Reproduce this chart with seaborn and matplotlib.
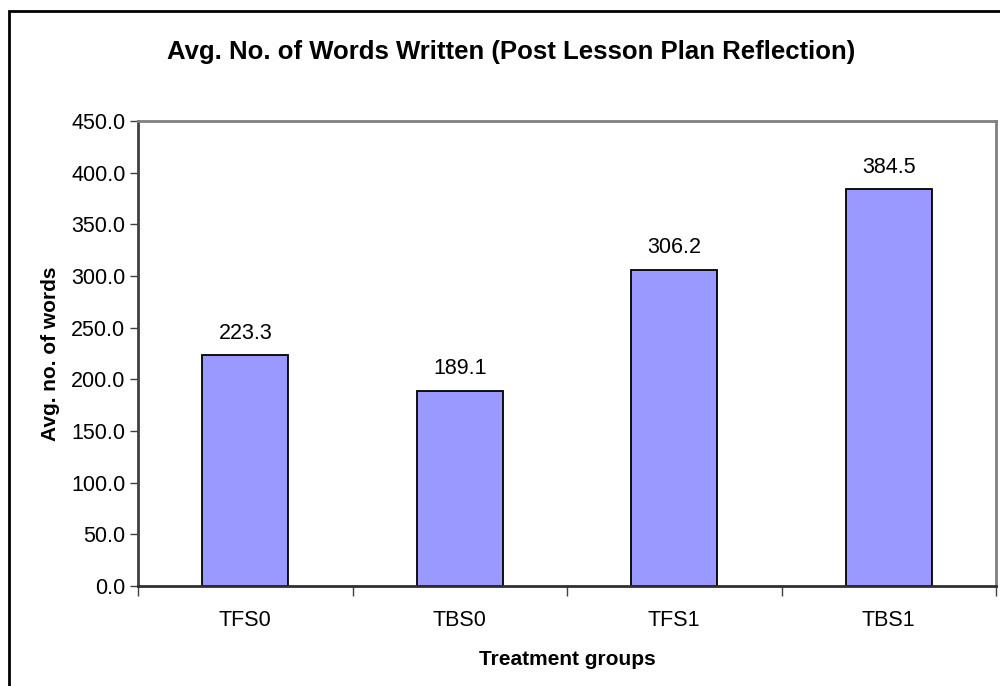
import matplotlib
matplotlib.use("Agg")
import matplotlib.pyplot as plt
import seaborn as sns
import pandas as pd
from matplotlib.patches import Rectangle

groups = ["TFS0", "TBS0", "TFS1", "TBS1"]
avg_words = [223.3, 189.1, 306.2, 384.5]
y_ticks = [0, 50, 100, 150, 200, 250, 300, 350, 400, 450]

sns.set_theme(style="white")
plt.rcParams["font.family"] = ["Liberation Sans", "DejaVu Sans"]
plt.rcParams["text.color"] = "black"

df = pd.DataFrame({"group": groups, "words": avg_words})

fig = plt.figure(figsize=(10, 6.86), dpi=100)
ax = fig.add_axes([0.138, 0.1458, 0.858, 0.6778])

sns.barplot(data=df, x="group", y="words", ax=ax, color="#9999FF",
            width=0.4, edgecolor="black", linewidth=1.3, saturation=1)

ax.set_xlim(-0.5, len(groups) - 0.5)
ax.set_ylim(0, 450)
ax.set_yticks(y_ticks)
ax.set_yticklabels([f"{v:.1f}" for v in y_ticks], fontsize=15.5, color="black")
ax.set_xticks(range(len(groups)))
ax.set_xticklabels(groups, fontsize=15.5, color="black")
ax.set_xticks([i - 0.5 for i in range(len(groups) + 1)], minor=True)
ax.tick_params(axis="x", which="major", length=0, pad=17)
ax.tick_params(axis="x", which="minor", length=7, width=1, color="#404040",
               direction="out", bottom=True)
ax.tick_params(axis="y", which="major", length=6, width=1, color="#404040",
               direction="out", left=True, pad=3)

for side in ["top", "right"]:
    ax.spines[side].set_visible(True)
    ax.spines[side].set_color("#808080")
    ax.spines[side].set_linewidth(2)
ax.spines["left"].set_color("#404040")
ax.spines["left"].set_linewidth(2)
ax.spines["bottom"].set_color("#303030")
ax.spines["bottom"].set_linewidth(2)

for i, v in enumerate(avg_words):
    ax.annotate(f"{v:.1f}", (i, v), xytext=(0, 8), textcoords="offset points",
                ha="center", va="bottom", fontsize=15.5, color="black")

ax.set_xlabel("Treatment groups", fontsize=15, fontweight="bold",
              labelpad=14, color="black")
ax.set_ylabel("Avg. no. of words", fontsize=15, fontweight="bold",
              labelpad=8, color="black")

fig.text(0.511, 0.924, "Avg. No. of Words Written (Post Lesson Plan Reflection)",
         ha="center", va="center", fontsize=18.5, fontweight="bold",
         color="black")

# outer chart-area border
fig.patches.append(Rectangle((0.009, -0.05), 1.2, 1.034,
                             transform=fig.transFigure, fill=False,
                             edgecolor="black", linewidth=2, zorder=0))

fig.savefig("out.png", dpi=100, facecolor="white")
